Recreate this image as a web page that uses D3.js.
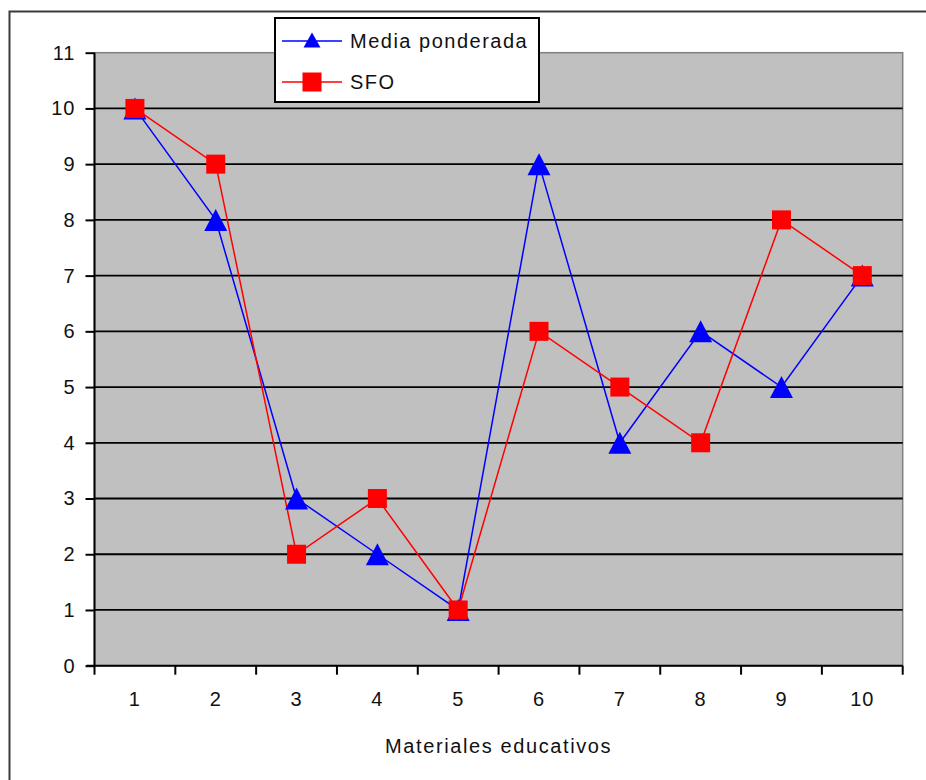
<!DOCTYPE html>
<html>
<head>
<meta charset="utf-8">
<script src="https://cdn.jsdelivr.net/npm/d3@7"></script>
<style>
  body { margin: 0; background: white; }
  svg { display: block; font-family: "Liberation Sans", Arial, sans-serif; }
  .axis text { font-size: 20px; letter-spacing: 1px; fill: #111; }
</style>
</head>
<body>
<div id="visualization"></div>
<script>
// data
let materiales = ["1", "2", "3", "4", "5", "6", "7", "8", "9", "10"];
let mediaPonderada = [10, 8, 3, 2, 1, 9, 4, 6, 5, 7];
let sfo = [10, 9, 2, 3, 1, 6, 5, 4, 8, 7];
let yTicks = [0, 1, 2, 3, 4, 5, 6, 7, 8, 9, 10, 11];
let seriesNames = ["Media ponderada", "SFO"];

let w = 926, h = 780;
// plot area edges (top/left are window globals, so different names)
let plotLeft = 94.5, plotRight = 902.7, plotTop = 52.7, plotBottom = 665.7;

let viz = d3.select("#visualization")
    .append("svg")
    .attr("width", w)
    .attr("height", h)
;

// outer chart frame (runs off the right and bottom edge)
viz.append("rect")
    .attr("x", 9.5).attr("y", 11.5)
    .attr("width", 940).attr("height", 800)
    .attr("fill", "white")
    .attr("stroke", "#3a3a3a")
    .attr("stroke-width", 2)
;

let xScale = d3.scaleBand().domain(materiales).range([plotLeft, plotRight]).padding(0);
let yScale = d3.scaleLinear().domain([0, 11]).range([plotBottom, plotTop]);

// plot area
viz.append("rect")
    .attr("x", plotLeft).attr("y", plotTop)
    .attr("width", plotRight - plotLeft).attr("height", plotBottom - plotTop)
    .attr("fill", "#c0c0c0")
    .attr("stroke", "#808080")
    .attr("stroke-width", 1.5)
;

// gridlines
viz.append("g")
    .selectAll("line")
    .data(yTicks.filter(function(d){ return d > 0 && d < 11; }))
    .enter()
    .append("line")
    .attr("x1", plotLeft).attr("x2", plotRight)
    .attr("y1", function(d){ return yScale(d); })
    .attr("y2", function(d){ return yScale(d); })
    .attr("stroke", "black")
    .attr("stroke-width", 1.8)
;

// y axis
let yAxis = d3.axisLeft(yScale).tickValues(yTicks).tickSize(9).tickPadding(10).tickFormat(d3.format("d"));
let yAxisGroup = viz.append("g")
    .attr("class", "axis")
    .attr("transform", "translate(" + plotLeft + ",0)")
    .call(yAxis)
;
yAxisGroup.select(".domain").remove();
yAxisGroup.selectAll("line").attr("stroke", "black").attr("stroke-width", 2);
yAxisGroup.append("line")
    .attr("x1", 0).attr("x2", 0)
    .attr("y1", plotTop).attr("y2", plotBottom)
    .attr("stroke", "black").attr("stroke-width", 2)
;

// x axis: labels in band centres, ticks on band edges
let xAxis = d3.axisBottom(xScale).tickSize(0).tickPadding(26);
let xAxisGroup = viz.append("g")
    .attr("class", "axis")
    .attr("transform", "translate(0," + plotBottom + ")")
    .call(xAxis)
;
xAxisGroup.select(".domain").remove();
xAxisGroup.append("line")
    .attr("x1", plotLeft - 8).attr("x2", plotRight)
    .attr("y1", 0).attr("y2", 0)
    .attr("stroke", "black").attr("stroke-width", 2)
;
let edges = materiales.map(function(d){ return xScale(d); }).concat([plotRight]);
xAxisGroup.selectAll(".edge")
    .data(edges)
    .enter()
    .append("line")
    .attr("class", "edge")
    .attr("x1", function(d){ return d; })
    .attr("x2", function(d){ return d; })
    .attr("y1", 0).attr("y2", 9)
    .attr("stroke", "black").attr("stroke-width", 2)
;

viz.append("text")
    .attr("x", (plotLeft + plotRight) / 2)
    .attr("y", 753)
    .attr("text-anchor", "middle")
    .style("font-size", "20px")
    .style("letter-spacing", "1.6px")
    .attr("fill", "#111")
    .text("Materiales educativos")
;

// lines and markers
function getX(d, i){ return xScale(materiales[i]) + xScale.bandwidth() / 2; }
function getY(d){ return yScale(d); }
let lineMaker = d3.line().x(getX).y(getY);

let triangle = function(cx, cy, bw, bh){
  return "M" + cx + "," + (cy - bh / 2) +
         "L" + (cx + bw / 2) + "," + (cy + bh / 2) +
         "L" + (cx - bw / 2) + "," + (cy + bh / 2) + "Z";
};

viz.append("path")
    .datum(mediaPonderada)
    .attr("d", lineMaker)
    .attr("fill", "none")
    .attr("stroke", "#0000ff")
    .attr("stroke-width", 1.5)
;
viz.append("path")
    .datum(sfo)
    .attr("d", lineMaker)
    .attr("fill", "none")
    .attr("stroke", "#ff0000")
    .attr("stroke-width", 1.5)
;

viz.append("g")
    .selectAll("path")
    .data(mediaPonderada)
    .enter()
    .append("path")
    .attr("d", function(d, i){ return triangle(getX(d, i), getY(d), 23, 22); })
    .attr("fill", "#0000ff")
;
viz.append("g")
    .selectAll("rect")
    .data(sfo)
    .enter()
    .append("rect")
    .attr("x", function(d, i){ return getX(d, i) - 9.5; })
    .attr("y", function(d){ return getY(d) - 9.5; })
    .attr("width", 19).attr("height", 19)
    .attr("fill", "#ff0000")
;

// legend
let legend = viz.append("g");
legend.append("rect")
    .attr("x", 275).attr("y", 18)
    .attr("width", 264).attr("height", 84)
    .attr("fill", "white")
    .attr("stroke", "black")
    .attr("stroke-width", 2)
;
let legendRows = [41, 82];
let legendColors = ["#0000ff", "#ff0000"];
seriesNames.forEach(function(name, i){
  let y = legendRows[i];
  legend.append("line")
      .attr("x1", 282).attr("x2", 342)
      .attr("y1", y).attr("y2", y)
      .attr("stroke", legendColors[i])
      .attr("stroke-width", 1.5)
  ;
  if(i == 0){
    legend.append("path")
        .attr("d", triangle(312, y - 1, 17, 15))
        .attr("fill", legendColors[i]);
  } else {
    legend.append("rect")
        .attr("x", 302.5).attr("y", y - 9.5)
        .attr("width", 19).attr("height", 19)
        .attr("fill", legendColors[i]);
  }
  legend.append("text")
      .attr("x", 350)
      .attr("y", y + 7)
      .style("font-size", "20px")
      .style("letter-spacing", "1.5px")
      .attr("fill", "#111")
      .text(name)
  ;
});
</script>
</body>
</html>
